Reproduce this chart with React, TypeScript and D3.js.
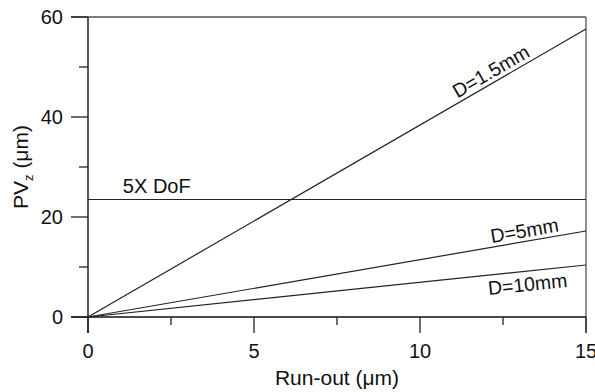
import React from 'react';
import * as d3 from 'd3';

const runOut = [0, 15];
const seriesNames = ['D=1.5mm', 'D=5mm', 'D=10mm'];
const seriesValues = [
  [0, 57.6],
  [0, 17.2],
  [0, 10.4],
];
const dofValue = 23.5;
const dofLabel = '5X DoF';
const xTicks = [0, 5, 10, 15];
const xMinor = [2.5, 7.5, 12.5];
const yTicks = [0, 20, 40, 60];
const yMinor = [10, 30, 50];
// where along x each series label sits, and offset from the line (px, perpendicular)
const labelAt = [12.3, 13.2, 13.2];
const labelOffset = [-11, -11, 13];

const W = 595;
const H = 392;
const m = { left: 88, right: 9, top: 17, bottom: 75 };
const font = '"Liberation Sans", Arial, Helvetica, sans-serif';

const App = () => {
  const x = d3.scaleLinear().domain([0, 15]).range([m.left, W - m.right]);
  const y = d3.scaleLinear().domain([0, 60]).range([H - m.bottom, m.top]);
  const line = d3.line<number>()
    .x((d, i) => x(runOut[i]))
    .y(d => y(d));

  const x0 = x(0), x1 = x(15), y0 = y(0), y1 = y(60);

  return (
    <svg width={W} height={H} style={{ position: 'absolute', left: 0, top: 0, background: '#fff' }}
      fontFamily={font}>
      {/* frame */}
      <line x1={x0 - 17} x2={x1} y1={y1} y2={y1} stroke="#555" strokeWidth={1.3} />
      <line x1={x1} x2={x1} y1={y1} y2={y0 + 16} stroke="#555" strokeWidth={1.3} />
      <line x1={x0} x2={x0} y1={y1} y2={y0 + 16} stroke="#111" strokeWidth={1.4} />
      <line x1={x0 - 17} x2={x1} y1={y0} y2={y0} stroke="#111" strokeWidth={1.4} />

      {/* ticks */}
      {yTicks.map(t => (
        <g key={'y' + t}>
          <line x1={x0 - 17} x2={x0} y1={y(t)} y2={y(t)} stroke="#222" strokeWidth={1.3} />
          <text x={x0 - 25} y={y(t)} dy="0.35em" textAnchor="end" fontSize={20} fill="#111">{t}</text>
        </g>
      ))}
      {yMinor.map(t => (
        <line key={'ym' + t} x1={x0 - 9} x2={x0} y1={y(t)} y2={y(t)} stroke="#222" strokeWidth={1.3} />
      ))}
      {xTicks.map(t => (
        <g key={'x' + t}>
          <line x1={x(t)} x2={x(t)} y1={y0} y2={y0 + 16} stroke="#222" strokeWidth={1.3} />
          <text x={x(t)} y={y0 + 41} textAnchor="middle" fontSize={20} fill="#111">{t}</text>
        </g>
      ))}
      {xMinor.map(t => (
        <line key={'xm' + t} x1={x(t)} x2={x(t)} y1={y0} y2={y0 + 8} stroke="#222" strokeWidth={1.3} />
      ))}

      {/* DoF line */}
      <line x1={x0} x2={x1} y1={y(dofValue)} y2={y(dofValue)} stroke="#222" strokeWidth={1.2} />
      <text x={x(1.05)} y={y(dofValue) - 7} fontSize={20} fill="#111">{dofLabel}</text>

      {/* series */}
      {seriesValues.map((vals, i) => {
        const lx = labelAt[i];
        const ly = vals[1] * lx / 15;
        const px = x(lx), py = y(ly);
        const ang = Math.atan2(y(vals[1]) - y(0), x(15) - x(0)) * 180 / Math.PI;
        return (
          <g key={seriesNames[i]}>
            <path d={line(vals) ?? ''} fill="none" stroke="#222" strokeWidth={1.2} />
            <text transform={`translate(${px},${py}) rotate(${ang}) translate(0,${labelOffset[i]})`}
              textAnchor="middle" dy="0.35em" fontSize={19.5} fill="#111">{seriesNames[i]}</text>
          </g>
        );
      })}

      {/* axis titles */}
      <text x={(x0 + x1) / 2} y={H - 7} textAnchor="middle" fontSize={21} fill="#111">Run-out (μm)</text>
      <text transform={`translate(28,${(y0 + y1) / 2}) rotate(-90)`} textAnchor="middle" fontSize={21} fill="#111">
        PV<tspan fontSize={13} dy={5}>z</tspan><tspan dy={-5}> (μm)</tspan>
      </text>
    </svg>
  );
};

export default App;
